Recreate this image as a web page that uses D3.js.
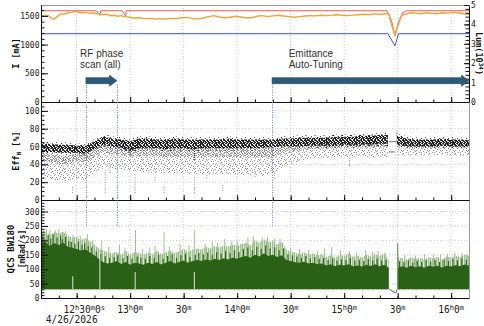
<!DOCTYPE html>
<html>
<head>
<meta charset="utf-8">
<script src="https://cdn.jsdelivr.net/npm/d3@7"></script>
<style>
  body { margin: 0; background: #fff; }
  svg { display: block; }
  .tick text { font-family: "DejaVu Sans Mono", monospace; font-size: 8px; fill: #222; }
  .ttl { font-family: "DejaVu Sans Mono", monospace; font-weight: bold; fill: #111; }
  .anno { font-family: "Liberation Sans", Arial, sans-serif; font-size: 10px; fill: #333; }
</style>
</head>
<body>
<svg id="chart" width="484" height="326"></svg>
<script>
// ---- data (times are minutes after 12:10, 4/26/2026) ----
const xTickLabels = ["12h30m0s", "13h0m", "30m", "14h0m", "30m", "15h0m", "30m", "16h0m"];
const dateLabel = "4/26/2026";

// top panel: beam currents [mA] and luminosity [1e34]
const redT = [0, 31, 33, 33.6, 45.5, 47.5, 47.8, 194, 196.5, 198.5, 200.5, 203, 205, 240];
const redV = [1590, 1590, 1510, 1590, 1590, 1500, 1590, 1590, 1420, 1160, 1400, 1560, 1590, 1590];
const bluT = [0, 194.5, 198.5, 200.5, 240];
const bluV = [1190, 1190, 980, 1190, 1190];
const lumT = [0, 2, 4, 6, 7.5, 9, 11, 13, 15, 17, 19, 21, 23, 25, 27, 29, 31, 33, 35, 37, 39, 41, 43, 45, 47, 49,
  52, 55, 58, 61, 64, 67, 70, 73, 76, 79, 82, 85, 88, 91, 94, 97, 100, 103, 106, 109, 112, 115, 118, 121, 124,
  127, 130, 133, 136, 139, 142, 145, 148, 151, 154, 157, 160, 163, 166, 169, 172, 175, 178, 181, 184, 187, 190,
  193, 195, 196.5, 198.5, 200, 202, 204, 207, 210, 213, 216, 219, 222, 225, 228, 231, 234, 237, 240];
const lumV = [4.48, 4.44, 4.46, 4.30, 4.28, 4.40, 4.54, 4.52, 4.60, 4.62, 4.67, 4.64, 4.60, 4.62, 4.57, 4.60,
  4.55, 4.54, 4.50, 4.52, 4.45, 4.47, 4.42, 4.45, 4.40, 4.38, 4.33, 4.34, 4.30, 4.31, 4.28, 4.30, 4.28, 4.31,
  4.30, 4.34, 4.36, 4.31, 4.28, 4.33, 4.40, 4.45, 4.38, 4.34, 4.37, 4.42, 4.38, 4.33, 4.34, 4.42, 4.45, 4.40,
  4.44, 4.47, 4.43, 4.40, 4.37, 4.40, 4.43, 4.45, 4.44, 4.47, 4.45, 4.48, 4.50, 4.47, 4.45, 4.48, 4.50, 4.52,
  4.50, 4.54, 4.52, 4.55, 4.54, 4.00, 3.45, 3.90, 4.45, 4.52, 4.60, 4.58, 4.55, 4.60, 4.57, 4.55, 4.60, 4.58,
  4.62, 4.60, 4.55, 4.52];

// middle panel: injection efficiency [%], dense (black) and sparse (grey) bands
const effT = [0, 5, 10, 15, 20, 25, 30, 35, 40, 45, 50, 55, 60, 65, 70, 75, 80, 85, 90, 95, 100, 105, 110, 115,
  120, 125, 130, 135, 140, 145, 150, 155, 160, 165, 170, 175, 180, 185, 190, 194.5, 195, 199.5, 200, 205, 210,
  215, 220, 225, 230, 235, 240];
const effBlkLo = [54, 54, 53, 53, 53, 52, 57, 62, 60, 58, 55, 58, 58, 58, 57, 58, 58, 57, 58, 58, 58, 58, 58, 58,
  58, 59, 59, 60, 60, 60, 61, 61, 61, 61, 62, 61, 62, 62, 63, 63, null, 64, 62, 60, 60, 60, 60, 61, 60, 60, 60];
const effBlkHi = [63, 63, 62, 62, 61, 61, 66, 71, 69, 68, 66, 69, 69, 68, 68, 69, 68, 68, 68, 68, 68, 69, 68, 68,
  68, 68, 68, 69, 69, 70, 70, 70, 70, 71, 71, 71, 72, 72, 73, 73, null, 78, 72, 69, 68, 68, 68, 69, 68, 68, 67];
const effGryLo = [25, 24, 21, 21, 24, 22, 30, 36, 35, 34, 33, 32, 31, 30, 30, 30, 30, 29, 29, 29, 29, 29, 28, 28,
  28, 27, 30, 36, 40, 44, 46, 47, 47, 48, 48, 48, 49, 48, 48, 48, null, 52, 50, 50, 50, 50, 50, 51, 50, 50, 50];
const effGryHi = [54, 52, 50, 50, 52, 53, 58, 62, 60, 59, 58, 58, 58, 58, 57, 58, 58, 58, 58, 58, 58, 58, 58, 57,
  58, 58, 58, 59, 61, 61, 62, 63, 63, 63, 64, 64, 64, 64, 65, 65, null, 65, 65, 63, 63, 63, 63, 63, 63, 63, 63];
// isolated low-efficiency shots [time, low, high]
const effStreaks = [[17.8, 8, 16], [36, 8, 34], [38.7, 30, 40], [52.7, 8, 30], [69, 8, 17], [86, 8, 28],
  [102, 10, 17], [173, 38, 50], [120, 26, 34], [131, 24, 32], [93, 24, 30], [64, 22, 28]];
const effBlkStreaks = [[50, 48, 58], [86, 45, 60]];
const effGapT = [[195, 199.5, 65.5], [195, 198.5, 54]];

// bottom panel: QCS background [mRad/s]
const qcsT = [0, 2.5, 5, 7.5, 10, 12.5, 15, 17.5, 20, 22.5, 25, 27.5, 30, 32.5, 35, 37.5, 40, 42.5, 45, 47.5,
  50, 52.5, 55, 57.5, 60, 62.5, 65, 67.5, 70, 72.5, 75, 77.5, 80, 82.5, 85, 87.5, 90, 92.5, 95, 97.5,
  100, 102.5, 105, 107.5, 110, 112.5, 115, 117.5, 120, 122.5, 125, 127.5, 130, 132.5, 135, 137.5, 140, 142.5,
  145, 147.5, 150, 152.5, 155, 157.5, 160, 162.5, 165, 167.5, 170, 172.5, 175, 177.5, 180, 182.5, 185, 187.5,
  190, 192.5, 195, 196, 200, 202.5, 205, 207.5, 210, 212.5, 215, 217.5, 220, 222.5, 225, 227.5, 230, 232.5,
  235, 237.5, 240];
const qcsDark = [185, 195, 180, 190, 184, 192, 178, 174, 170, 165,
  168, 158, 148, 135, 124, 120, 122, 128, 118, 125,
  115, 122, 120, 115, 122, 118, 125, 116, 122, 128,
  120, 125, 130, 122, 128, 132, 128, 134, 130, 136,
  132, 138, 134, 140, 136, 142, 146, 140, 150, 144,
  155, 146, 150, 142, 148, 132, 128, 124, 122, 126,
  120, 122, 117, 120, 113, 117, 110, 115, 113, 117,
  110, 113, 109, 115, 111, 117, 110, 115, 105, null,
  105, 110, 105, 112, 107, 110, 105, 112, 108, 112, 105, 112, 109, 114, 110, 116, 112];
const qcsLight = [225, 232, 220, 228, 224, 230, 215, 210, 212, 200,
  208, 195, 185, 172, 165, 158, 155, 160, 150, 165,
  150, 160, 155, 150, 160, 150, 165, 152, 158, 165,
  155, 162, 170, 160, 168, 172, 168, 178, 172, 180,
  175, 182, 178, 185, 180, 188, 192, 182, 200, 190,
  205, 192, 200, 185, 195, 168, 162, 158, 152, 160,
  150, 155, 148, 152, 142, 148, 140, 150, 146, 155,
  142, 147, 140, 150, 144, 152, 146, 154, 132, null,
  142, 138, 133, 142, 135, 140, 133, 142, 137, 142, 134, 144, 140, 147, 142, 150, 147];
const qcsBase = 30;
const qcsDarkSpikes = [[1, 212], [2.2, 204], [4, 218], [5.5, 206], [6.8, 220], [9, 210], [11, 216], [12, 204],
  [13.8, 212], [15.5, 198], [17, 194], [19, 188], [21, 196], [23, 184], [24.5, 190], [26.5, 180], [28.5, 176],
  [31, 162], [33.5, 152], [36, 145], [38.5, 140], [41, 142], [43, 148], [46, 138], [48.5, 146], [51, 136],
  [54, 144], [56, 140], [58.5, 136], [61, 146], [63.5, 140], [66, 150], [68.5, 136], [71, 146], [73.5, 152],
  [76, 140], [78.5, 148], [81, 154], [83.5, 142], [86.5, 150], [88.5, 156], [91, 152], [93.5, 158], [96, 150],
  [98.5, 160], [101, 154], [103.5, 162], [106, 156], [108.5, 165], [111, 160], [113.5, 170], [116, 175],
  [118.5, 166], [121, 178], [123.5, 170], [126, 182], [128.5, 172], [131, 176], [133.5, 166], [136, 172],
  [138.5, 152], [141, 148], [143.5, 144], [146, 140], [148.5, 146], [151, 138], [153.5, 142], [156, 136],
  [158.5, 140], [161, 132], [163.5, 136], [166, 130], [168.5, 134], [171, 132], [173.5, 138], [176, 130],
  [178.5, 133], [181, 128], [183.5, 135], [186, 130], [188.5, 137], [191, 130], [193.5, 132], [201, 128],
  [203.5, 125], [206, 131], [208.5, 123], [211, 129], [213.5, 125], [216, 131], [218.5, 127], [221, 131],
  [223.5, 125], [226, 133], [228.5, 129], [231, 135], [233.5, 131], [236, 137], [238.5, 133]];
const qcsLightSpikes = [[1.5, 238], [3, 240], [5, 236], [8, 235], [10, 240], [12.5, 228], [14, 232],
  [18, 218], [22, 215], [26, 222], [29, 200], [34, 200], [38, 178], [44, 185], [47, 172], [53, 236],
  [57, 170], [61, 176], [64, 180], [69, 230], [72, 178], [78, 188], [83, 182], [86, 236], [92, 188],
  [96, 195], [99, 192], [103, 205], [107, 198], [110, 200], [116, 210], [119, 215], [124, 210], [127, 212],
  [131, 206], [134, 205], [140, 175], [145, 170], [150, 166], [155, 162], [159, 172], [163, 176], [168, 166],
  [173, 162], [177, 158], [182, 166], [186, 160], [189, 163], [193, 158], [204, 150], [210, 148], [215, 152],
  [220, 152], [224, 150], [228, 154], [232, 158], [236, 156], [239, 152]];
const qcsDrops = [[17.8, 75], [33.0, 150], [52.8, 90], [86.0, 90]];
const qcsGap = [[195.3, 30], [199, 17], [199.6, 30]];
const qcsJump = [200, 190];

// annotations
const annoText = [["RF phase", "scan (all)"], ["Emittance", "Auto-Tuning"]];
const annoTextT = [21.9, 138.9];
const annoStart = [25.2, 129.6];
const annoEnd = [42.6, 240];

// ---- layout ----
const svg = d3.select("#chart");
const X0 = 41, X1 = 469;
const P = { top: [5, 102], mid: [102, 200], bot: [200, 298] };
const t0 = new Date(2026, 3, 26, 12, 10), t1 = new Date(2026, 3, 26, 16, 10);
const tm = m => new Date(+t0 + m * 60000);

const x = d3.scaleTime().domain([t0, t1]).range([X0, X1]);
const yI = d3.scaleLinear().domain([0, 1690]).range([P.top[1], P.top[0]]);
const yLum = d3.scaleLinear().domain([0, 5]).range([P.top[1], P.top[0]]);
const yEff = d3.scaleLinear().domain([0, 110]).range([P.mid[1], P.mid[0]]);
const yQcs = d3.scaleLinear().domain([0, 340]).range([P.bot[1], P.bot[0]]);

const majorT = d3.timeMinute.every(30).range(t0, t1);
const minorT = d3.timeMinute.every(10).range(t0, t1);

const defs = svg.append("defs");
Object.entries(P).forEach(([k, [a, b]]) => {
  defs.append("clipPath").attr("id", "clip-" + k)
    .append("rect").attr("x", X0).attr("y", a).attr("width", X1 - X0).attr("height", b - a);
});

// stipple / stripe patterns for the dense traces
function pattern(id, w, h, dots) {
  const p = defs.append("pattern").attr("id", id).attr("width", w).attr("height", h)
    .attr("patternUnits", "userSpaceOnUse");
  dots.forEach(([dx, dy, c, ww, hh]) => p.append("rect").attr("x", dx).attr("y", dy)
    .attr("width", ww || 1).attr("height", hh || 1).attr("fill", c));
}
pattern("blk", 7, 5, [[0, 0, "#111"], [1, 0, "#333"], [3, 0, "#222"], [4, 0, "#111"], [6, 0, "#555"],
  [1, 1, "#222"], [2, 1, "#111"], [4, 1, "#333"], [5, 1, "#111"], [0, 2, "#222"], [2, 2, "#333"],
  [3, 2, "#111"], [5, 2, "#222"], [6, 2, "#222"], [1, 3, "#444"], [2, 3, "#111"], [4, 3, "#222"],
  [5, 3, "#333"], [0, 4, "#333"], [3, 4, "#666"], [4, 4, "#111"], [6, 4, "#222"], [6, 3, "#111"]]);
pattern("blkHalo", 9, 5, [[0, 0, "#222"], [5, 1, "#444"], [2, 2, "#333"], [7, 3, "#555"], [3, 4, "#666"],
  [8, 0, "#444"]]);
pattern("gry", 13, 9, [[0, 0, "#8f8f8f"], [5, 1, "#9a9a9a"], [9, 3, "#949494"], [2, 4, "#a0a0a0"],
  [11, 6, "#8c8c8c"], [7, 7, "#9a9a9a"], [3, 8, "#989898"], [12, 1, "#a4a4a4"], [6, 4, "#aaa"],
  [10, 8, "#a0a0a0"], [1, 2, "#9c9c9c"], [8, 1, "#a8a8a8"], [4, 6, "#939393"], [11, 4, "#a5a5a5"],
  [0, 6, "#a0a0a0"], [8, 5, "#8f8f8f"], [5, 8, "#aaa"], [12, 7, "#999"], [3, 3, "#b0b0b0"], [7, 2, "#999"]]);
pattern("gryDense", 7, 5, [[0, 0, "#888"], [3, 0, "#999"], [5, 1, "#8f8f8f"], [1, 2, "#a0a0a0"],
  [4, 3, "#8a8a8a"], [6, 3, "#a0a0a0"], [2, 4, "#939393"], [0, 3, "#a5a5a5"], [2, 1, "#999"],
  [6, 0, "#a0a0a0"], [3, 2, "#8f8f8f"], [5, 4, "#999"]]);
pattern("qL", 4, 4, [[0, 0, "#a3c395", 1, 4], [1, 0, "#c8dbbf", 1, 4], [2, 0, "#97ba88", 1, 4],
  [3, 0, "#e2ecdd", 1, 4]]);

// grids
const grid = svg.append("g").attr("stroke", "#c4c4c4").attr("stroke-width", 0.8)
  .attr("stroke-dasharray", "1,2");
majorT.forEach(t => grid.append("line").attr("x1", x(t)).attr("x2", x(t))
  .attr("y1", P.top[0]).attr("y2", P.bot[1]));
[20, 40, 60, 80, 100].forEach(v => grid.append("line").attr("x1", X0).attr("x2", X1)
  .attr("y1", yEff(v)).attr("y2", yEff(v)));
[50, 100, 150, 200, 250, 300].forEach(v => grid.append("line").attr("x1", X0).attr("x2", X1)
  .attr("y1", yQcs(v)).attr("y2", yQcs(v)));

// ---- top panel lines ----
const gTop = svg.append("g").attr("clip-path", "url(#clip-top)");
const line = (ts, vs, y) => d3.line().x((d, i) => x(tm(ts[i]))).y(d => y(d))(vs);
gTop.append("path").attr("d", line(redT, redV, yI)).attr("fill", "none")
  .attr("stroke", "#f25a4f").attr("stroke-width", 1);
gTop.append("path").attr("d", line(bluT, bluV, yI)).attr("fill", "none")
  .attr("stroke", "#3b52f5").attr("stroke-width", 1);
gTop.append("path").attr("d", line(lumT, lumV, yLum)).attr("fill", "none")
  .attr("stroke", "#f1a33a").attr("stroke-width", 1.4);

// ---- middle panel scatter bands ----
const gMid = svg.append("g").attr("clip-path", "url(#clip-mid)");
const band = (lo, hi, pad) => d3.area()
  .defined((d, i) => lo[i] != null)
  .x((d, i) => x(tm(effT[i])))
  .y0((d, i) => yEff(lo[i] - pad))
  .y1((d, i) => yEff(hi[i] + pad))(effT);
gMid.append("path").attr("d", band(effGryLo, effGryHi, 0)).attr("fill", "url(#gry)");
gMid.append("path").attr("d", d3.area()
  .defined((d, i) => effGryLo[i] != null)
  .x((d, i) => x(tm(effT[i])))
  .y0((d, i) => yEff((effGryLo[i] + 2 * effGryHi[i]) / 3))
  .y1((d, i) => yEff(effGryHi[i]))(effT)).attr("fill", "url(#gryDense)");
effStreaks.forEach(([t, lo, hi]) => gMid.append("line")
  .attr("x1", x(tm(t))).attr("x2", x(tm(t))).attr("y1", yEff(lo)).attr("y2", yEff(hi))
  .attr("stroke", "#8a8a8a").attr("stroke-width", 1).attr("stroke-dasharray", "1,1.5"));
gMid.append("path").attr("d", band(effBlkLo, effBlkHi, 2.5)).attr("fill", "url(#blkHalo)");
gMid.append("path").attr("d", band(effBlkLo, effBlkHi, 0)).attr("fill", "url(#blk)");
effBlkStreaks.forEach(([t, lo, hi]) => gMid.append("line")
  .attr("x1", x(tm(t))).attr("x2", x(tm(t))).attr("y1", yEff(lo)).attr("y2", yEff(hi))
  .attr("stroke", "#222").attr("stroke-width", 1).attr("stroke-dasharray", "1,1"));
effGapT.forEach(([a, b, v]) => gMid.append("line")
  .attr("x1", x(tm(a))).attr("x2", x(tm(b))).attr("y1", yEff(v)).attr("y2", yEff(v))
  .attr("stroke", "#888").attr("stroke-width", 1.2));

// ---- bottom panel background rate ----
const gBot = svg.append("g").attr("clip-path", "url(#clip-bot)");
const qArea = vs => d3.area().defined((d, i) => vs[i] != null)
  .x((d, i) => x(tm(qcsT[i]))).y0(yQcs(qcsBase)).y1((d, i) => yQcs(vs[i]))(qcsT);
const spike = (t, v, col, w) => gBot.append("line")
  .attr("x1", x(tm(t))).attr("x2", x(tm(t))).attr("y1", yQcs(qcsBase)).attr("y2", yQcs(v))
  .attr("stroke", col).attr("stroke-width", w);
gBot.append("path").attr("d", qArea(qcsLight)).attr("fill", "url(#qL)");
qcsLightSpikes.forEach(([t, v]) => spike(t, v, "#9fc190", 1));
qcsDarkSpikes.forEach(([t, v]) => spike(t, v, "#2f6a1b", 1.2));
gBot.append("path").attr("d", qArea(qcsDark)).attr("fill", "#2b6117");
qcsDrops.forEach(([t, v]) => spike(t, v, "#d6e4cf", 1));
gBot.append("path").attr("d", d3.line().x(d => x(tm(d[0]))).y(d => yQcs(d[1]))(qcsGap))
  .attr("fill", "none").attr("stroke", "#5f7f52").attr("stroke-width", 1);
spike(qcsJump[0], qcsJump[1], "#6f9a5e", 1.2);

// ---- frame and axes ----
svg.append("line").attr("x1", X0).attr("x2", X1).attr("y1", P.top[0] + 0.5).attr("y2", P.top[0] + 0.5)
  .attr("stroke", "#999");
svg.append("line").attr("x1", X1 + 0.5).attr("x2", X1 + 0.5).attr("y1", P.mid[0]).attr("y2", P.bot[1])
  .attr("stroke", "#999");

function xAxes(yPix) {
  svg.append("g").attr("transform", `translate(0,${yPix})`).attr("color", "#111")
    .call(d3.axisBottom(x).tickValues(minorT).tickSize(-2.5).tickFormat(""))
    .call(a => a.select(".domain").remove());
  svg.append("g").attr("transform", `translate(0,${yPix})`).attr("color", "#111")
    .call(d3.axisBottom(x).tickValues(majorT).tickSizeInner(-5).tickSizeOuter(0).tickFormat(""));
}
xAxes(P.top[1]); xAxes(P.mid[1]); xAxes(P.bot[1]);

function yAxis(scale, major, minor, side) {
  const ax = side === "left" ? d3.axisLeft : d3.axisRight;
  const xp = side === "left" ? X0 : X1;
  svg.append("g").attr("transform", `translate(${xp},0)`).attr("color", "#111")
    .call(ax(scale).tickValues(minor).tickSize(-3.5).tickFormat(""))
    .call(a => a.select(".domain").remove());
  svg.append("g").attr("transform", `translate(${xp},0)`).attr("color", "#111")
    .call(ax(scale).tickValues(major).tickSizeInner(side === "left" ? -7 : -5).tickSizeOuter(0)
      .tickPadding(side === "left" ? 1.5 : 2).tickFormat(d3.format("d")));
}
yAxis(yI, [0, 500, 1000, 1500], d3.range(0, 1690, 100), "left");
yAxis(yLum, [0, 1, 2, 3, 4, 5], d3.range(0, 5.01, 0.2), "right");
yAxis(yEff, [0, 20, 40, 60, 80, 100], d3.range(0, 111, 5), "left");
yAxis(yQcs, [0, 50, 100, 150, 200, 250, 300], d3.range(0, 341, 10), "left");

// time labels with superscript units
majorT.forEach((t, i) => {
  const lab = xTickLabels[i];
  const txt = svg.append("text").attr("x", x(t)).attr("y", 313)
    .attr("text-anchor", "middle").attr("dx", lab.endsWith("s") ? 7.5 : 0)
    .attr("font-family", "DejaVu Sans Mono, monospace").attr("fill", "#222");
  let up = false;
  lab.match(/\d+|[a-z]+/g).forEach(p => {
    const sup = /[a-z]/.test(p);
    txt.append("tspan").text(p).attr("font-size", sup ? 7 : 9.6)
      .attr("dy", sup && !up ? -3.5 : (!sup && up ? 3.5 : 0));
    up = sup;
  });
});
svg.append("text").attr("x", x(majorT[0]) - 5).attr("y", 322.5).attr("text-anchor", "middle")
  .attr("font-family", "DejaVu Sans Mono, monospace").attr("font-size", 9.6).attr("fill", "#222")
  .text(dateLabel);

// axis titles
function vTitle(xp, yc, rot, size, parts) {
  const t = svg.append("text").attr("class", "ttl").attr("font-size", size)
    .attr("text-anchor", "middle").attr("dominant-baseline", "central")
    .attr("transform", `translate(${xp},${yc}) rotate(${rot})`);
  parts.forEach(([s, shift, fs]) => t.append("tspan").text(s).attr("dy", shift)
    .attr("font-size", fs || size));
}
vTitle(15.5, (P.top[0] + P.top[1]) / 2, -90, 8.5, [["I [mA]", 0]]);
vTitle(15.5, (P.mid[0] + P.mid[1]) / 2, -90, 8.5,
  [["Eff", 0], ["H", 2, 6], [" [%]", -2]]);
vTitle(11, (P.bot[0] + P.bot[1]) / 2, -90, 9, [["QCS BW180", 0]]);
vTitle(21.5, (P.bot[0] + P.bot[1]) / 2, -90, 8, [["[mRad/s]", 0]]);
vTitle(479, (P.top[0] + P.top[1]) / 2, 90, 8.5,
  [["Lum(10", 0], ["34", -3, 6], [")", 3]]);

// ---- annotations: arrows, captions, marker lines ----
const arrowY = yLum(1.1);
const ga = svg.append("g");
annoStart.forEach((s, i) => {
  const xs = x(tm(s)), xe = x(tm(annoEnd[i]));
  const hl = 7.5, bw = 3, hw = 5.5;
  ga.append("path")
    .attr("d", `M${xs},${arrowY - bw}L${xe - hl},${arrowY - bw}L${xe - hl},${arrowY - hw}L${xe},${arrowY}` +
      `L${xe - hl},${arrowY + hw}L${xe - hl},${arrowY + bw}L${xs},${arrowY + bw}Z`)
    .attr("fill", "#2c5a78").attr("stroke", "#1e4560").attr("stroke-width", 0.6);
  const tx = x(tm(annoTextT[i]));
  annoText[i].forEach((s2, j) => ga.append("text").attr("class", "anno")
    .attr("x", tx).attr("y", arrowY - 24 + j * 11.8).text(s2));
  const marks = annoEnd[i] < 240 ? [s, annoEnd[i]] : [s];
  marks.forEach(m => ga.append("line").attr("x1", x(tm(m)) + 0.5).attr("x2", x(tm(m)) + 0.5)
    .attr("y1", arrowY + bw + 1).attr("y2", yQcs(250))
    .attr("stroke", "#4f80a8").attr("stroke-width", 1).attr("stroke-dasharray", "1,1.5"));
});
</script>
</body>
</html>
